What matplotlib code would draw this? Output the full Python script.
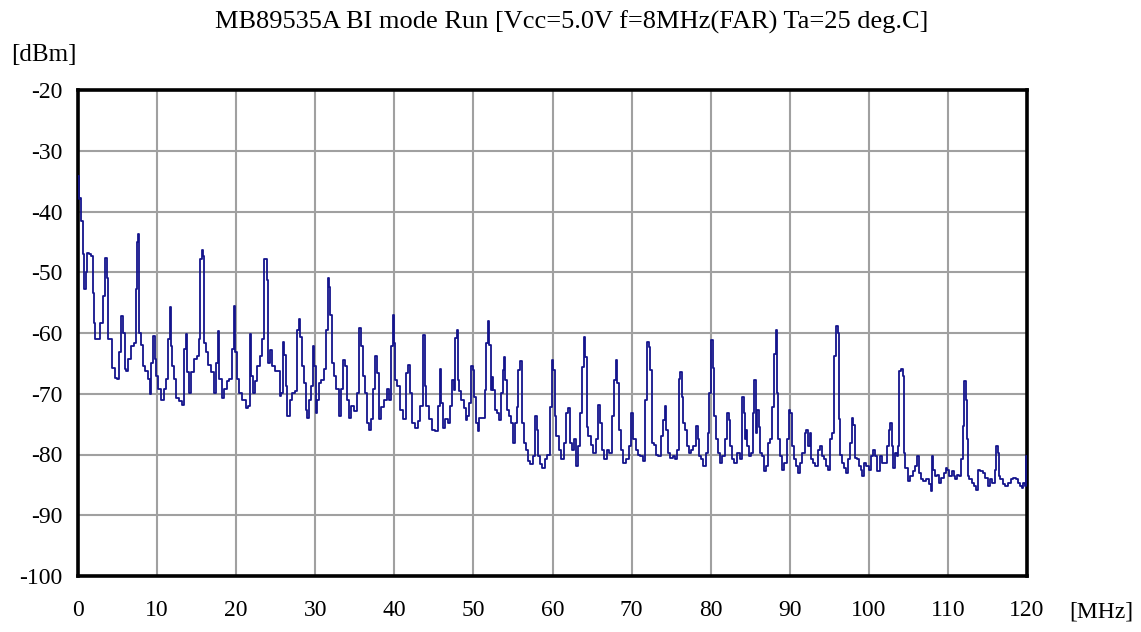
import matplotlib

matplotlib.use("Agg")
import matplotlib.pyplot as plt
import numpy as np

plt.rcParams.update({
    "font.family": ["Liberation Serif", "DejaVu Serif"],
    "font.size": 14,
    "axes.unicode_minus": False,
})

# spectrum trace (MHz, dBm)
F_BAND1 = [0, 0.2, 0.35, 0.5, 0.7, 0.85, 1.05, 1.3, 1.55, 1.8, 1.9, 2.1, 2.3, 2.6, 2.9,
           3.3, 3.55, 3.7, 3.85, 4.1, 4.4, 4.85, 5.1, 5.35, 5.55, 5.8, 6.0, 6.2, 6.55, 6.85,
           7.2, 7.4, 7.6, 7.7, 7.85, 8.1, 8.3, 8.65, 8.95, 9.15, 9.4, 9.6, 9.75, 10.0, 10.35,
           10.7, 11.0, 11.25, 11.5, 11.7, 11.85, 12.0, 12.25, 12.55, 13.0, 13.3, 13.5, 13.7,
           13.9, 14.2, 14.5, 14.85, 15.15, 15.4, 15.55, 15.7, 15.9, 16.05, 16.3, 16.65, 17.05,
           17.3, 17.6, 17.75, 18.0, 18.3, 18.65, 19.0, 19.3, 19.55, 19.8, 20.0, 20.2, 20.55,
           21.0, 21.4, 21.65, 21.8, 22.0, 22.25, 22.45, 22.8, 23.15, 23.4, 23.65]
L_BAND1 = [-34.1, -38, -37.7, -41.5, -47, -52.8, -50, -46.8, -47, -47.3, -53.4, -58.3, -61,
           -61, -58.3, -53.9, -47.6, -51, -61, -61, -65.7, -67.4, -67.6, -63.2, -57.2, -60,
           -66, -66.3, -64.3, -62.1, -61.6, -52.8, -45.1, -43.7, -60, -61.9, -65.4, -66.3,
           -67.6, -70.1, -64.9, -60.5, -64.3, -67.1, -69.3, -71, -69.3, -67.6, -61, -55.8,
           -62.1, -65.4, -67.6, -70.7, -71.2, -71.8, -62.7, -60.2, -66.5, -69.8, -66.5, -64.3,
           -63.8, -61, -47.9, -46.3, -47.3, -61.6, -63.2, -65.2, -66.5, -69.8, -64.9, -59.7,
           -67.6, -70.7, -69.3, -67.9, -67.6, -62.7, -55.5, -63.2, -67.6, -69.8, -71, -72.3,
           -72, -60.2, -67.1, -69.8, -67.9, -65.4, -63.8, -61, -47.9]

F_BAND2 = [23.8, 24.0, 24.1, 24.35, 24.8, 25.1, 25.4, 25.6, 25.8, 26.0, 26.2, 26.3, 26.65,
           26.9, 27.2, 27.6, 27.85, 28.0, 28.2, 28.4, 28.65, 28.9, 29.1, 29.4, 29.6, 29.8,
           30.0, 30.1, 30.35, 30.6, 30.95, 31.25, 31.5, 31.65, 31.85, 32.0, 32.2, 32.5, 32.8,
           33.15, 33.4, 33.65, 33.9, 34.1, 34.4, 34.7, 35.1, 35.45, 35.65, 35.85, 36.1, 36.4,
           36.65, 36.9, 37.2, 37.5, 37.7, 37.9, 38.1, 38.45, 38.9, 39.2, 39.5, 39.7, 39.9,
           40.0, 40.25, 40.5, 40.95, 41.25, 41.6, 41.85, 42.1, 42.4, 42.75, 43.15, 43.45,
           43.75, 43.95, 44.15, 44.5, 44.9, 45.35, 45.6, 45.85, 46.05, 46.25, 46.6, 46.9,
           47.2, 47.4]
L_BAND2 = [-47.9, -51.3, -65, -62.8, -65.5, -66.3, -66.3, -70.4, -69.9, -61.4, -63.6, -68.8,
           -73.7, -71, -69.9, -69.6, -59.5, -57.7, -60.6, -65.5, -68.2, -72.6, -74, -71, -68.8,
           -62.2, -65.5, -73.2, -71, -68.2, -67.7, -66, -59.5, -51, -52.4, -57, -65, -67.1,
           -69.3, -73.7, -69.3, -64.4, -65.5, -71, -74, -72, -72.9, -69.9, -59.2, -62.2,
           -67.1, -69.9, -74.8, -75.9, -74.2, -69.3, -63.8, -66.6, -74.2, -72.1, -71, -69.3,
           -71, -62.2, -57, -61.7, -67.7, -68.8, -72.6, -74.2, -66.6, -65.3, -69.9, -74.8,
           -75.6, -74.5, -72, -60.3, -68.8, -72, -74.2, -75.9, -76.2, -72, -66, -71.5, -75.6,
           -74.2, -74.8, -72, -67.7]

F_BAND3 = [47.6, 47.8, 48.0, 48.1, 48.3, 48.65, 48.95, 49.15, 49.35, 49.6, 49.8, 50.0, 50.2,
           50.4, 50.65, 50.85, 51.3, 51.55, 51.75, 51.95, 52.1, 52.25, 52.4, 52.65, 52.85,
           53.1, 53.4, 53.65, 53.85, 54.0, 54.1, 54.35, 54.6, 54.9, 55.1, 55.3, 55.6, 55.8,
           56.1, 56.25, 56.5, 56.8, 57.05, 57.35, 57.65, 57.9, 58.1, 58.3, 58.6, 58.85, 59.15,
           59.55, 59.8, 60.0, 60.2, 60.35, 60.65, 60.95, 61.3, 61.55, 61.85, 62.1, 62.35,
           62.6, 62.85, 63.1, 63.3, 63.6, 63.85, 64.05, 64.2, 64.4, 64.7, 65.0, 65.3, 65.65,
           65.95, 66.15, 66.4, 66.7, 67.0, 67.35, 67.7, 67.9, 68.1, 68.3, 68.5, 68.8, 69.15,
           69.5, 69.85, 70.1, 70.35, 70.65, 70.95, 71.3, 71.55]
L_BAND3 = [-69.4, -60.9, -59.5, -67.7, -69.6, -71, -72.4, -74.3, -73.7, -71.6, -65.4, -66.1,
           -70.5, -74.8, -76.2, -74, -74, -69.4, -61.7, -58, -62, -69.4, -67.2, -69.4, -72.6,
           -73.2, -74.3, -69.9, -66.1, -63.9, -67.7, -72.6, -73.7, -74.8, -78.1, -74.8, -72.1,
           -66.1, -64.6, -74.8, -78.1, -79.2, -81.1, -81.5, -80.3, -73.7, -75.9, -80.3, -81.6,
           -82.2, -80.8, -80, -72.1, -64.5, -66.1, -73.7, -77, -79.2, -80.8, -78.1, -73.2,
           -72.4, -78.1, -79.2, -77.5, -81.9, -78.6, -73.2, -65.6, -60.7, -63.9, -75.4, -77,
           -78.4, -79.7, -77.5, -71.8, -74.8, -79.2, -80.8, -79.2, -79.7, -73.7, -67.7, -64.5,
           -68.3, -75.9, -79.2, -81.4, -80.8, -78.6, -73.2, -77.5, -79.2, -80, -80.3, -81.1]

F_BAND4 = [71.9, 72.1, 72.3, 72.45, 72.65, 72.9, 73.2, 73.5, 73.85, 74.1, 74.3, 74.45, 74.65,
           75.0, 75.4, 75.7, 75.9, 76.1, 76.25, 76.4, 76.6, 76.85, 77.1, 77.3, 77.6, 77.9,
           78.1, 78.3, 78.4, 78.6, 78.9, 79.25, 79.5, 79.7, 79.95, 80.15, 80.35, 80.5, 80.75,
           81.0, 81.25, 81.6, 81.9, 82.15, 82.4, 82.6, 82.85, 83.15, 83.55, 83.85, 84.1,
           84.25, 84.4, 84.55, 84.75, 85.0, 85.2, 85.4, 85.6, 85.8, 86.0, 86.2, 86.4, 86.65,
           86.85, 87.15, 87.4, 87.7, 87.9, 88.1, 88.3, 88.45, 88.65, 88.9, 89.15, 89.45,
           89.75, 90.0, 90.15, 90.4, 90.6, 90.9, 91.15, 91.4, 91.75, 92.0, 92.15, 92.4, 92.6,
           92.8, 93.1, 93.4, 93.7, 93.95, 94.15, 94.45, 94.75, 95.0, 95.3, 95.5]
L_BAND4 = [-71, -61.5, -62.3, -66.1, -78.1, -78.4, -80, -80.3, -77, -74.3, -72, -75.9, -79.7,
           -80.5, -80.3, -80.8, -79.2, -67.5, -66.4, -70.5, -74.8, -75.9, -78.6, -79.7, -79.2,
           -78.6, -78.6, -75.3, -77.5, -80.3, -80.8, -81.9, -79.7, -76.5, -69.9, -61.2, -65.8,
           -73.7, -77.5, -79.7, -81.4, -80.3, -77.5, -73.2, -74.3, -78.6, -80.8, -81.4, -79.7,
           -80.8, -70.5, -73.2, -77.5, -75.9, -78.6, -80.3, -79.7, -73.2, -67.7, -76.5, -72.6,
           -75.4, -79.7, -80.3, -82.7, -81.9, -78.1, -77.5, -72.1, -63.4, -59.5, -69.9, -77.5,
           -80.3, -82.5, -81.4, -77.5, -72.6, -73.2, -78.6, -80.8, -81.9, -83, -81.4, -79.7,
           -76.5, -75.9, -78.6, -76.5, -80.8, -81.4, -81.9, -79.2, -78.6, -80.3, -80.8, -81.9,
           -82.5, -77.5, -76.5]

F_BAND5 = [95.8, 96.0, 96.15, 96.3, 96.5, 96.75, 97.05, 97.25, 97.45, 97.75, 97.9, 98.1,
           98.3, 98.6, 98.85, 99.05, 99.25, 99.5, 99.8, 100.15, 100.4, 100.65, 100.9, 101.2,
           101.5, 101.75, 102.1, 102.4, 102.65, 102.8, 103.0, 103.15, 103.4, 103.6, 103.8,
           103.95, 104.2, 104.35, 104.5, 104.75, 105.05, 105.35, 105.7, 106.0, 106.2, 106.45,
           106.75, 107.05, 107.4, 107.7, 107.9, 108.05, 108.25, 108.45, 108.75, 109.0, 109.3,
           109.6, 109.8, 110.05, 110.35, 110.65, 110.85, 111.05, 111.3, 111.6, 111.8, 112.0,
           112.15, 112.3, 112.45, 112.55, 112.85, 113.2, 113.5, 113.7, 113.9, 114.2, 114.55,
           114.9, 115.2, 115.5, 115.75, 116.05, 116.2, 116.35, 116.45, 116.75, 117.1, 117.45,
           117.75, 118.1, 118.4, 118.7, 118.95, 119.2, 119.45, 119.6, 119.85, 120.0]
L_BAND5 = [-63.8, -58.9, -60, -74.2, -80, -81.4, -82.2, -83, -80.8, -78.1, -74, -75.1, -80.5,
           -80.8, -81.9, -82.5, -83.6, -81.4, -81.9, -82.5, -80.3, -79.2, -80.3, -82.7, -80.3,
           -81.4, -81.4, -78.6, -75.9, -74.8, -78.6, -82.2, -79.7, -80.3, -78.6, -66.3, -66,
           -67.1, -79.7, -82.2, -84.4, -83.6, -82.7, -81.9, -80.3, -83, -84.1, -84.4, -84.1,
           -84.9, -86, -80.3, -82.5, -83.6, -83.3, -84.7, -83.8, -83, -82.2, -82.5, -83.6,
           -82.7, -83.6, -84.1, -83.3, -83.6, -80.8, -75.3, -67.9, -71, -77.5, -83.6, -84.1,
           -84.7, -85.2, -85.8, -82.5, -82.7, -83, -83.8, -85.2, -84.1, -84.7, -82.5, -78.6,
           -79.7, -83.6, -84.1, -84.9, -85.2, -84.7, -84.1, -83.8, -84.1, -84.7, -85.2, -85.5,
           -84.7, -85.2, -80.3]

X_TICKS = list(range(0, 121, 10))
Y_TICKS = list(range(-100, -19, 10))

TITLE = "MB89535A BI mode Run [Vcc=5.0V f=8MHz(FAR) Ta=25 deg.C]"


def main():
    freq = np.concatenate([F_BAND1, F_BAND2, F_BAND3, F_BAND4, F_BAND5])
    level = np.concatenate([L_BAND1, L_BAND2, L_BAND3, L_BAND4, L_BAND5])

    fig = plt.figure(figsize=(11.41, 6.32), dpi=100)
    ax = fig.add_axes([78 / 1141, 1 - 576 / 632, (1027 - 78) / 1141, (576 - 90) / 632])

    ax.plot(freq, level, color="#14148c", linewidth=1.3, drawstyle="steps-mid", zorder=3)

    ax.set_xlim(0, 120)
    ax.set_ylim(-100, -20)
    ax.set_xticks(X_TICKS)
    ax.set_yticks(Y_TICKS)
    ax.grid(True, color="#a0a0a0", linewidth=1.5)
    ax.set_axisbelow(True)
    ax.tick_params(length=0, labelsize=17)
    ax.tick_params(axis="x", pad=17)
    ax.tick_params(axis="y", pad=11)
    for s in ax.spines.values():
        s.set_linewidth(2.6)
        s.set_color("black")

    fig.text(572 / 1141, 1 - 22 / 632, TITLE, ha="center", va="center", fontsize=19)
    fig.text(44 / 1141, 1 - 55 / 632, "[dBm]", ha="center", va="center", fontsize=18)
    fig.text(1101 / 1141, 1 - 612 / 632, "[MHz]", ha="center", va="center", fontsize=17)

    fig.savefig("out.png", dpi=100)
    plt.close(fig)


if __name__ == "__main__":
    main()
